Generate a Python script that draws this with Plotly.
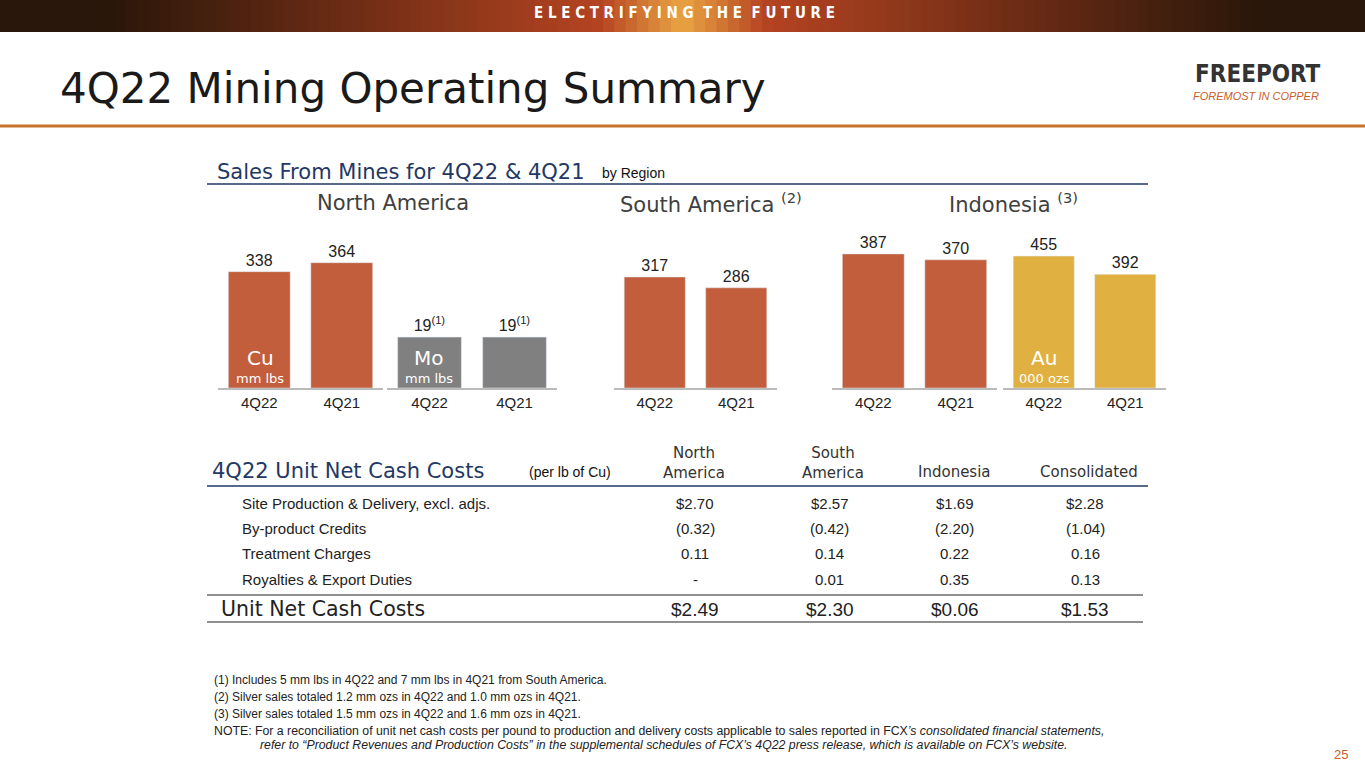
import plotly.graph_objects as go

W, H = 1365, 768

quarters = ["4Q22", "4Q21"]
na_cu = [338, 364]
na_mo = [19, 19]
sa_cu = [317, 286]
indo_cu = [387, 370]
indo_au = [455, 392]

cost_rows = ["Site Production & Delivery, excl. adjs.", "By-product Credits",
             "Treatment Charges", "Royalties & Export Duties"]
cost_cols = ["North<br>America", "South<br>America", "Indonesia", "Consolidated"]
cost_vals = [
    ["$2.70", "$2.57", "$1.69", "$2.28"],
    ["(0.32)", "(0.42)", "(2.20)", "(1.04)"],
    ["0.11", "0.14", "0.22", "0.16"],
    ["-", "0.01", "0.35", "0.13"],
]
total_vals = ["$2.49", "$2.30", "$0.06", "$1.53"]

footnotes = [
    "(1) Includes 5 mm lbs in 4Q22 and 7 mm lbs in 4Q21 from South America.",
    "(2) Silver sales totaled 1.2 mm ozs in 4Q22 and 1.0 mm ozs in 4Q21.",
    "(3) Silver sales totaled 1.5 mm ozs in 4Q22 and 1.6 mm ozs in 4Q21.",
]

COPPER = "#c25e3c"
GREY = "#808080"
GOLD = "#e0b040"
NAVY = "#1f3864"
WIDE = "DejaVu Sans"


def px(x):
    return x / W


def py(y):
    return 1 - y / H


fig = go.Figure()
annots = []
shapes = []


def txt(x, y, s, size=15, color="#222", xa="left", font="Liberation Sans", **kw):
    annots.append(dict(x=px(x), y=py(y), xref="paper", yref="paper", text=s,
                       showarrow=False, xanchor=xa, yanchor="middle",
                       font=dict(size=size, color=color, family=font), **kw))


def hline(x0, x1, y, color, w=1.5):
    shapes.append(dict(type="line", xref="paper", yref="paper", x0=px(x0), x1=px(x1),
                       y0=py(y), y1=py(y), line=dict(color=color, width=w)))


# bar panels: (values, color, x0, x1, ymax, labels)
panels = [
    (na_cu, COPPER, 218, 383, 459, None),
    (na_mo, GREY, 387, 557, 59, ["19<sup>(1)</sup>", "19<sup>(1)</sup>"]),
    (sa_cu, COPPER, 614, 777, 451, None),
    (indo_cu, COPPER, 832, 997, 456, None),
    (indo_au, GOLD, 1003, 1166, 545, None),
]
layout_axes = {}
for i, (vals, col, x0, x1, ymax, labs) in enumerate(panels, start=1):
    xs = "x" if i == 1 else "x%d" % i
    ys = "y" if i == 1 else "y%d" % i
    fig.add_trace(go.Bar(x=quarters, y=vals, marker_color=col, xaxis=xs, yaxis=ys,
                         text=labs if labs else [str(v) for v in vals],
                         textposition="outside", cliponaxis=False,
                         textfont=dict(size=16, color="#222", family="Liberation Sans"),
                         width=0.75, showlegend=False))
    layout_axes["xaxis" if i == 1 else "xaxis%d" % i] = dict(
        domain=[px(x0), px(x1)], anchor=ys, showline=True, linecolor="#bbbbbb",
        linewidth=2, ticks="", tickfont=dict(size=15, color="#222"), fixedrange=True)
    layout_axes["yaxis" if i == 1 else "yaxis%d" % i] = dict(
        domain=[py(388), py(230)], anchor=xs, range=[0, ymax], visible=False,
        showgrid=False)

# in-bar labels
for x, big, small in [(260, "Cu", "mm lbs"), (429, "Mo", "mm lbs"), (1044, "Au", "000 ozs")]:
    txt(x, 358, big, 20, "white", "center", font=WIDE)
    txt(x, 379, small, 13, "white", "center", font=WIDE)

# header gradient band
N = 120
for k in range(N):
    t = abs((k + 0.5) / N - 0.5) * 2
    glow = max(0.0, 1 - t / 0.12)
    f = min(1.0, t / 0.85)
    r = 205 - 165 * f + 30 * glow
    g = 75 - 52 * f + 90 * glow
    b = 38 - 28 * f + 30 * glow
    shapes.append(dict(type="rect", xref="paper", yref="paper", x0=k / N, x1=(k + 1) / N + 0.001,
                       y0=py(32), y1=1, line=dict(width=0),
                       fillcolor="rgb(%d,%d,%d)" % (r, g, b)))
txt(684, 13, "<b>E L E C T R I F Y I N G  T H E  F U T U R E</b>", 15, "white", "center",
    font="Liberation Sans Narrow, DejaVu Sans Condensed")

txt(58, 88, "4Q22 Mining Operating Summary", 42, "#1a1a1a", font=WIDE)
hline(0, W, 126, "#c8742a", 3)
txt(1258, 74, "<b>FREEPORT</b>", 24, "#333", "center", font="DejaVu Sans Condensed")
txt(1256, 96, "<i>FOREMOST IN COPPER</i>", 11, "#c8602a", "center")

# sales section
txt(215, 172, "Sales From Mines for 4Q22 & 4Q21", 21, NAVY, font=WIDE)
txt(600, 173, "by Region", 14, "#111")
hline(207, 1148, 184, NAVY, 1.5)
txt(393, 203, "North America", 21, "#404040", "center", font=WIDE)
txt(711, 203, "South America <sup>(2)</sup>", 21, "#404040", "center", font=WIDE)
txt(1013, 203, "Indonesia <sup>(3)</sup>", 21, "#404040", "center", font=WIDE)

# cost table
txt(210, 471, "4Q22 Unit Net Cash Costs", 21, NAVY, font=WIDE)
txt(527, 472, "(per lb of Cu)", 14, "#111")
col_x = [694, 833, 955, 1089]
for cx, c in zip(col_x, cost_cols):
    txt(cx, 463 if "<br>" in c else 472, c, 15, "#333", "center", font=WIDE)
hline(207, 1148, 486, NAVY, 1.5)
row_y = [503, 528, 553, 579]
val_x = [695, 830, 955, 1085]
for ry, lab, vals in zip(row_y, cost_rows, cost_vals):
    txt(240, ry, lab, 15, "#222")
    for vx, v in zip(val_x, vals):
        txt(vx, ry, v, 15, "#222", "center")
hline(207, 1143, 595, "#222", 1.2)
txt(219, 609, "Unit Net Cash Costs", 20.5, "#222", font=WIDE)
for vx, v in zip(val_x, total_vals):
    txt(vx, 609, v, 19, "#222", "center")
hline(207, 1143, 622, "#222", 1.2)

for i, f in enumerate(footnotes):
    txt(212, 680 + 17 * i, f, 12, "#222")
txt(212, 731, "NOTE: For a reconciliation of unit net cash costs per pound to production and delivery costs applicable to sales reported in FCX<i>\u2019s consolidated financial statements,</i>", 12.3, "#222")
txt(258, 745, "<i>refer to \u201cProduct Revenues and Production Costs\u201d in the supplemental schedules of FCX\u2019s 4Q22 press release, which is available on FCX\u2019s website.</i>", 12.3, "#222")
txt(1341, 754, "25", 13, "#c8602a", "center")

fig.update_layout(width=W, height=H, margin=dict(l=0, r=0, t=0, b=0),
                  paper_bgcolor="white", plot_bgcolor="white",
                  font=dict(family="Liberation Sans"),
                  annotations=annots, shapes=shapes, **layout_axes)
fig.write_html("out.html", config={"displayModeBar": False},
               post_script="document.body.style.margin='0';")
